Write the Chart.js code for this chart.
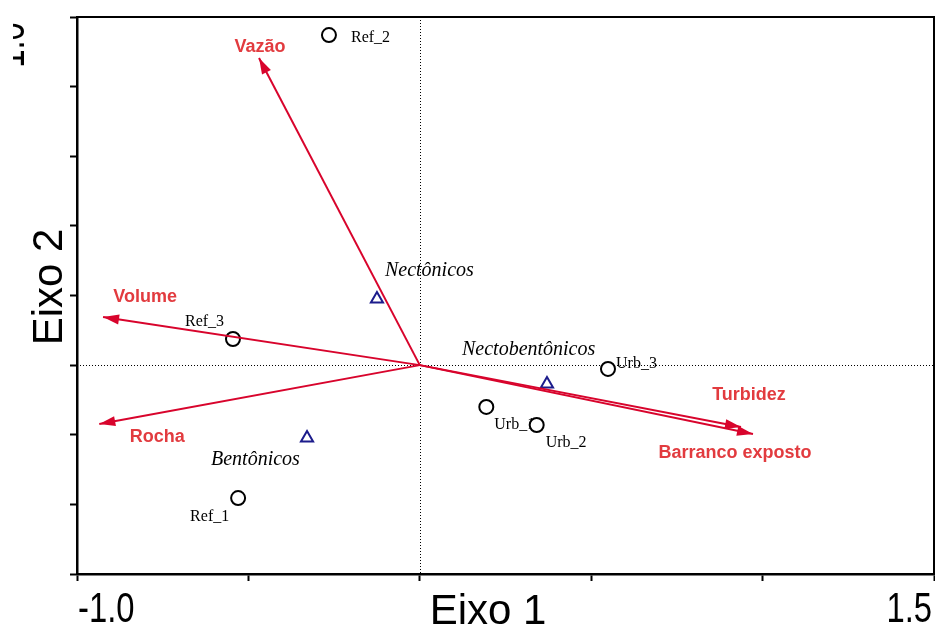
<!DOCTYPE html>
<html>
<head>
<meta charset="utf-8">
<script src="https://cdn.jsdelivr.net/npm/chart.js@4/dist/chart.umd.min.js"></script>
<style>
  html, body { margin: 0; padding: 0; background: #ffffff; }
  #wrap { width: 935px; height: 626px; }
</style>
</head>
<body>
<div id="wrap"><canvas id="biplot" width="935" height="626"></canvas></div>
<script>
// Sampling sites (circles)
const siteNames = ['Ref_1', 'Ref_2', 'Ref_3', 'Urb_1', 'Urb_2', 'Urb_3'];
const siteX = [-0.530, -0.265, -0.545, 0.194, 0.341, 0.549];
const siteY = [-0.382, 0.948, 0.075, -0.120, -0.172, -0.011];

// Functional groups (triangles)
const groupNames = ['Bentônicos', 'Nectônicos', 'Nectobentônicos'];
const groupX = [-0.329, -0.125, 0.371];
const groupY = [-0.209, 0.190, -0.054];

// Environmental variables (arrows from the origin)
const envNames = ['Vazão', 'Volume', 'Rocha', 'Turbidez', 'Barranco exposto'];
const envX = [-0.469, -0.924, -0.935, 0.937, 0.972];
const envY = [0.882, 0.138, -0.169, -0.178, -0.198];

// Axis ticks
const xTicks = [-1.0, -0.5, 0, 0.5, 1.0, 1.5];
const yTicks = [-0.6, -0.4, -0.2, 0, 0.2, 0.4, 0.6, 0.8, 1.0];
const xTickLabels = { '-1': '-1.0', '1.5': '1.5' };
const yTopLabel = '1.0';

// Label placement (pixel offsets from each mark)
const siteLabelOffset = [[-48, 19], [22, 3], [-48, -17], [8, 18], [9, 18], [8, -5]];
const groupLabelOffset = [[-96, 22], [8, -28], [-85, -34]];
const envLabelOffset = [[1, -11], [42, -20], [58, 13], [8, -32], [-18, 19]];

const ARROW = '#d8042c';
const ENV_TEXT = '#e23b3f';
const NAVY = '#1c1c8c';
const SANS = "'Liberation Sans', Arial, sans-serif";
const SERIF = "'Liberation Serif', 'Times New Roman', serif";
const NARROW_SCALE = 0.78;

const pts = (xs, ys) => xs.map((v, i) => ({ x: v, y: ys[i] }));

const arrowSets = envNames.map((name, i) => ({
  label: name,
  data: [{ x: 0, y: 0 }, { x: envX[i], y: envY[i] }],
  showLine: true,
  borderColor: ARROW,
  borderWidth: 2,
  pointRadius: 0,
  order: 0
}));

const siteSet = {
  label: 'Sites',
  data: pts(siteX, siteY),
  pointStyle: 'circle',
  pointRadius: 7,
  borderWidth: 2,
  borderColor: '#000000',
  backgroundColor: '#ffffff',
  order: 1
};

const groupSet = {
  label: 'Grupos',
  data: pts(groupX, groupY),
  pointStyle: 'triangle',
  pointRadius: 7,
  borderWidth: 2,
  borderColor: NAVY,
  backgroundColor: '#ffffff',
  order: 1
};

// text squeezed horizontally, like a condensed face
function narrowText(ctx, text, x, y, align) {
  const w = ctx.measureText(text).width * NARROW_SCALE;
  let left = x;
  if (align === 'center') left = x - w / 2;
  else if (align === 'right') left = x - w;
  ctx.save();
  ctx.translate(left, y);
  ctx.scale(NARROW_SCALE, 1);
  ctx.textAlign = 'left';
  ctx.fillText(text, 0, 0);
  ctx.restore();
}

const biplotDecor = {
  id: 'biplotDecor',
  beforeDatasetsDraw(chart) {
    const { ctx, chartArea: a, scales: { x, y } } = chart;
    ctx.save();
    // dotted reference lines through the origin
    ctx.strokeStyle = '#000';
    ctx.lineWidth = 1;
    ctx.setLineDash([1, 2]);
    const x0 = Math.round(x.getPixelForValue(0)) + 0.5;
    const y0 = Math.round(y.getPixelForValue(0)) + 0.5;
    ctx.beginPath();
    ctx.moveTo(x0, a.top); ctx.lineTo(x0, a.bottom);
    ctx.moveTo(a.left, y0); ctx.lineTo(a.right, y0);
    ctx.stroke();
    ctx.setLineDash([]);

    // point labels
    ctx.textAlign = 'left';
    ctx.textBaseline = 'middle';
    ctx.fillStyle = '#000';
    ctx.font = '16px ' + SERIF;
    siteNames.forEach((n, i) => {
      const px = x.getPixelForValue(siteX[i]), py = y.getPixelForValue(siteY[i]);
      ctx.fillText(n, px + siteLabelOffset[i][0], py + siteLabelOffset[i][1]);
    });
    ctx.font = 'italic 20px ' + SERIF;
    groupNames.forEach((n, i) => {
      const px = x.getPixelForValue(groupX[i]), py = y.getPixelForValue(groupY[i]);
      ctx.fillText(n, px + groupLabelOffset[i][0], py + groupLabelOffset[i][1]);
    });
    ctx.textAlign = 'center';
    ctx.fillStyle = ENV_TEXT;
    ctx.font = 'bold 18px ' + SANS;
    envNames.forEach((n, i) => {
      const px = x.getPixelForValue(envX[i]), py = y.getPixelForValue(envY[i]);
      ctx.fillText(n, px + envLabelOffset[i][0], py + envLabelOffset[i][1]);
    });
    ctx.restore();
  },
  afterDatasetsDraw(chart) {
    const { ctx, chartArea: a } = chart;
    ctx.save();
    // arrowheads at the tips of the variable vectors
    ctx.fillStyle = ARROW;
    arrowSets.forEach((_, i) => {
      const meta = chart.getDatasetMeta(i);
      const p0 = meta.data[0], p1 = meta.data[1];
      const ang = Math.atan2(p1.y - p0.y, p1.x - p0.x);
      const L = 16, W = 5;
      const bx = p1.x - L * Math.cos(ang), by = p1.y - L * Math.sin(ang);
      ctx.beginPath();
      ctx.moveTo(p1.x, p1.y);
      ctx.lineTo(bx - W * Math.sin(ang), by + W * Math.cos(ang));
      ctx.lineTo(bx + W * Math.sin(ang), by - W * Math.cos(ang));
      ctx.closePath();
      ctx.fill();
    });
    // top and right edges of the plot frame
    ctx.strokeStyle = '#000';
    ctx.lineWidth = 2;
    ctx.beginPath();
    ctx.moveTo(a.left, a.top); ctx.lineTo(a.right, a.top); ctx.lineTo(a.right, a.bottom);
    ctx.stroke();
    ctx.restore();
  },
  afterDraw(chart) {
    const { ctx, scales: { x, y } } = chart;
    ctx.save();
    ctx.fillStyle = '#000';
    ctx.textBaseline = 'alphabetic';

    // horizontal tick labels: first one starts at its tick, last one ends at its tick
    ctx.font = '42px ' + SANS;
    xTicks.forEach((v, i) => {
      const txt = xTickLabels[String(v)];
      if (!txt) return;
      const px = x.getPixelForValue(v);
      const align = i === 0 ? 'left' : (i === xTicks.length - 1 ? 'right' : 'center');
      narrowText(ctx, txt, px + (i === 0 ? 1 : (align === 'right' ? -2 : 0)), 622, align);
    });

    // axis titles
    ctx.font = '42px ' + SANS;
    ctx.textAlign = 'center';
    ctx.fillText('Eixo 1', 488, 624);
    ctx.save();
    ctx.translate(62, 287);
    ctx.rotate(-Math.PI / 2);
    ctx.fillText('Eixo 2', 0, 0);
    ctx.restore();

    // top tick label of the vertical axis, turned on its side
    ctx.beginPath();
    ctx.rect(13, 0, 60, 120);
    ctx.clip();
    ctx.translate(24, y.getPixelForValue(1.0) + 28);
    ctx.rotate(-Math.PI / 2);
    narrowText(ctx, yTopLabel, 0, 0, 'center');
    ctx.restore();
  }
};

new Chart(document.getElementById('biplot'), {
  type: 'scatter',
  data: { datasets: [...arrowSets, siteSet, groupSet] },
  options: {
    responsive: false,
    animation: false,
    devicePixelRatio: 1,
    events: [],
    layout: { autoPadding: false, padding: { top: 17, right: 1, bottom: 0, left: 0 } },
    plugins: { legend: { display: false }, tooltip: { enabled: false } },
    scales: {
      x: {
        type: 'linear',
        min: -1.0,
        max: 1.5,
        afterBuildTicks: s => { s.ticks = xTicks.map(v => ({ value: v })); },
        afterFit: s => { s.height = 52; s.paddingLeft = 0; s.paddingRight = 0; },
        ticks: { display: false },
        grid: { drawOnChartArea: false, drawTicks: true, tickLength: 7, tickWidth: 2, tickColor: '#000' },
        border: { display: true, color: '#000', width: 2.5 }
      },
      y: {
        type: 'linear',
        min: -0.6,
        max: 1.0,
        afterBuildTicks: s => { s.ticks = yTicks.map(v => ({ value: v })); },
        afterFit: s => { s.width = 77; s.paddingTop = 0; s.paddingBottom = 0; },
        ticks: { display: false },
        grid: { drawOnChartArea: false, drawTicks: true, tickLength: 7, tickWidth: 2, tickColor: '#000' },
        border: { display: true, color: '#000', width: 2.5 }
      }
    }
  },
  plugins: [biplotDecor]
});
</script>
</body>
</html>
